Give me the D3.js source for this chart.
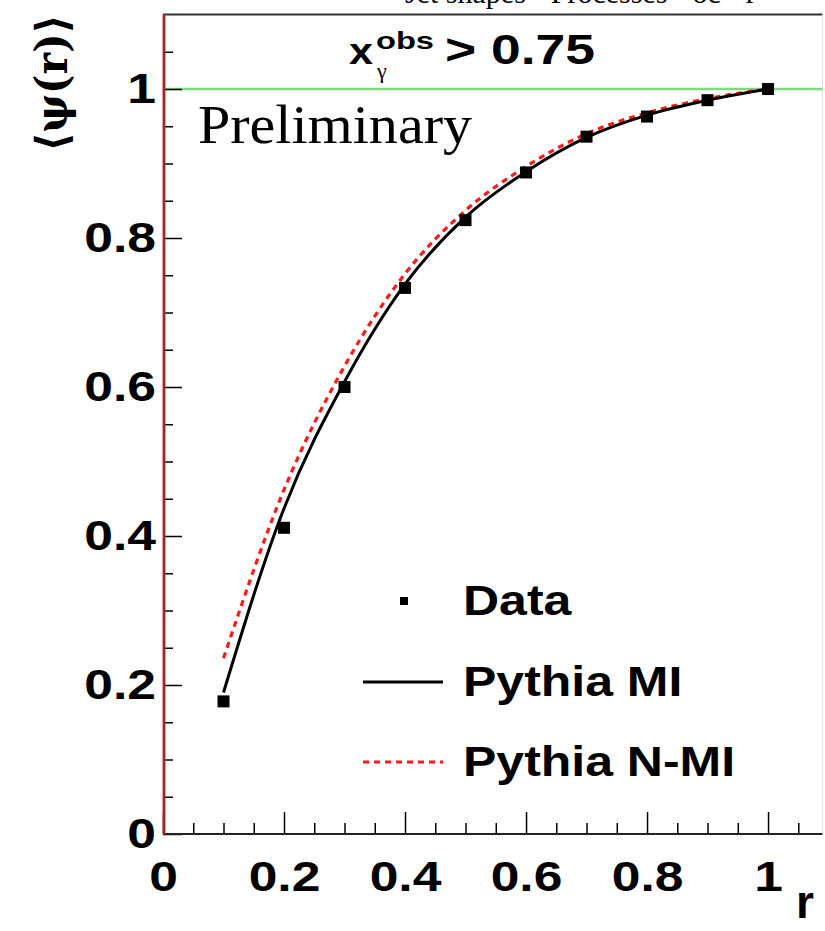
<!DOCTYPE html>
<html>
<head>
<meta charset="utf-8">
<script src="https://cdn.jsdelivr.net/npm/d3@7"></script>
<style>
  html, body { margin: 0; padding: 0; background: #fff; }
  svg { display: block; }
  .bold { font-family: "Liberation Sans", Arial, sans-serif; font-weight: bold; }
</style>
</head>
<body>
<svg id="chart" width="825" height="931"></svg>
<script>
// ---- data ----
const rValues = [0.1, 0.2, 0.3, 0.4, 0.5, 0.6, 0.7, 0.8, 0.9, 1.0];
const dataPsi = [0.178, 0.411, 0.600, 0.733, 0.824, 0.888, 0.936, 0.963, 0.985, 1.0];
const pythiaMI = [0.190, 0.437, 0.607, 0.738, 0.828, 0.889, 0.935, 0.965, 0.985, 1.0];
const pythiaNMI = [0.236, 0.462, 0.628, 0.752, 0.837, 0.896, 0.940, 0.968, 0.987, 1.0];
const majorTicks = [0, 0.2, 0.4, 0.6, 0.8, 1];
const majorLabels = ["0", "0.2", "0.4", "0.6", "0.8", "1"];
const minorTicks = [0.05, 0.1, 0.15, 0.25, 0.3, 0.35, 0.45, 0.5, 0.55, 0.65, 0.7, 0.75, 0.85, 0.9, 0.95, 1.05];
const legendLabels = ["Data", "Pythia MI", "Pythia N-MI"];
const cutLabel = "xγ obs > 0.75";

const svg = d3.select("#chart");
const x = d3.scaleLinear().domain([0, 1.09]).range([163, 822.5]);
const y = d3.scaleLinear().domain([0, 1.1]).range([834, 14.5]);

function stretch(sel, k) {
  sel.each(function () {
    const w = this.getComputedTextLength();
    d3.select(this).attr("textLength", w * k).attr("lengthAdjust", "spacingAndGlyphs");
  });
}

// cut-off caption line at the very top (only its lower part shows, as in the reference)
svg.append("text").attr("x", 405).attr("y", 3)
  .attr("font-family", "Liberation Serif").attr("font-size", 30)
  .text("Jet shapes · Processes · oc · r");

// frame
svg.append("line").attr("x1", x(0)).attr("x2", x(1.09)).attr("y1", y(1.1)).attr("y2", y(1.1))
  .attr("stroke", "#333").attr("stroke-width", 2);
svg.append("line").attr("x1", x(1.09)).attr("x2", x(1.09)).attr("y1", y(1.1)).attr("y2", y(0))
  .attr("stroke", "#ddd").attr("stroke-width", 1);

// reference line at 1
svg.append("line").attr("x1", x(0)).attr("x2", x(1.09)).attr("y1", y(1)).attr("y2", y(1))
  .attr("stroke", "#7ddc7d").attr("stroke-width", 2.5);

// axes
const fmt = d => majorLabels[majorTicks.indexOf(d)];
const yAxis = svg.append("g").attr("transform", `translate(${x(0)},0)`)
  .call(d3.axisLeft(y).tickValues(majorTicks).tickFormat(fmt).tickSize(-19).tickPadding(7));
const yMinor = svg.append("g").attr("transform", `translate(${x(0)},0)`)
  .call(d3.axisLeft(y).tickValues(minorTicks).tickFormat("").tickSize(-10));
const xAxis = svg.append("g").attr("transform", `translate(0,${y(0)})`)
  .call(d3.axisBottom(x).tickValues(majorTicks).tickFormat(fmt).tickSize(-22).tickPadding(26));
const xMinor = svg.append("g").attr("transform", `translate(0,${y(0)})`)
  .call(d3.axisBottom(x).tickValues(minorTicks).tickFormat("").tickSize(-11));

[yAxis, yMinor, xAxis, xMinor].forEach(g => {
  g.select(".domain").remove();
  g.selectAll(".tick line").attr("stroke", "#000").attr("stroke-width", 1.5);
});
[yAxis, xAxis].forEach(g => {
  g.selectAll(".tick text").attr("class", "bold").attr("font-size", 43).attr("fill", "#000");
  stretch(g.selectAll(".tick text"), 1.2);
});

// axis lines
svg.append("line").attr("x1", x(0)).attr("x2", x(1.09)).attr("y1", y(0)).attr("y2", y(0))
  .attr("stroke", "#222").attr("stroke-width", 2);
svg.append("line").attr("x1", x(0) + 1).attr("x2", x(0) + 1).attr("y1", y(1.1)).attr("y2", y(0))
  .attr("stroke", "#c83a3a").attr("stroke-width", 3);
svg.append("line").attr("x1", x(0) + 1).attr("x2", x(0) + 1).attr("y1", y(1.1)).attr("y2", y(0))
  .attr("stroke", "#5a1010").attr("stroke-width", 0.8);

// curves
const line = d3.line().x(d => x(d[0])).y(d => y(d[1])).curve(d3.curveMonotoneX);
svg.append("path").datum(rValues.map((r, i) => [r, pythiaNMI[i]]))
  .attr("d", line).attr("fill", "none").attr("stroke", "#ff1a1a")
  .attr("stroke-width", 3.2).attr("stroke-dasharray", "6,5");
svg.append("path").datum(rValues.map((r, i) => [r, pythiaMI[i]]))
  .attr("d", line).attr("fill", "none").attr("stroke", "#000").attr("stroke-width", 3);

// data points
svg.append("g").selectAll("rect").data(rValues.map((r, i) => [r, dataPsi[i]])).join("rect")
  .attr("x", d => x(d[0]) - 6).attr("y", d => y(d[1]) - 6)
  .attr("width", 12).attr("height", 12).attr("fill", "#000");

// labels
svg.append("text").attr("x", 198).attr("y", 143)
  .attr("font-family", "Liberation Serif").attr("font-size", 54)
  .attr("textLength", 274).attr("lengthAdjust", "spacingAndGlyphs").text("Preliminary");

const cut = svg.append("g");
cut.append("text").attr("class", "bold").attr("x", 349).attr("y", 64).attr("font-size", 36)
  .attr("textLength", 24).attr("lengthAdjust", "spacingAndGlyphs").text(cutLabel.slice(0, 1));
cut.append("text").attr("class", "bold").attr("x", 376).attr("y", 49).attr("font-size", 24)
  .attr("textLength", 58).attr("lengthAdjust", "spacingAndGlyphs").text(cutLabel.slice(3, 6));
cut.append("text").attr("x", 377).attr("y", 78).attr("font-size", 22)
  .attr("font-family", "Liberation Serif").text(cutLabel.slice(1, 2));
cut.append("text").attr("class", "bold").attr("x", 445).attr("y", 64).attr("font-size", 42)
  .attr("textLength", 150).attr("lengthAdjust", "spacingAndGlyphs").text(cutLabel.slice(7));

svg.append("text").attr("transform", "translate(52,83) rotate(-90)")
  .attr("text-anchor", "middle").attr("dy", "0.35em")
  .attr("font-family", "DejaVu Serif").attr("font-weight", "bold").attr("font-size", 44)
  .attr("textLength", 137).attr("lengthAdjust", "spacingAndGlyphs").text("⟨ψ(r)⟩");

svg.append("text").attr("class", "bold").attr("x", 805).attr("y", 918)
  .attr("text-anchor", "middle").attr("font-size", 46).text("r");

// legend
const leg = svg.append("g");
const legY = [601, 682, 762];
leg.append("rect").attr("x", 404 - 4).attr("y", legY[0] - 4).attr("width", 8).attr("height", 8).attr("fill", "#000");
leg.append("line").attr("x1", 363).attr("x2", 443).attr("y1", legY[1]).attr("y2", legY[1])
  .attr("stroke", "#000").attr("stroke-width", 3);
leg.append("line").attr("x1", 363).attr("x2", 443).attr("y1", legY[2]).attr("y2", legY[2])
  .attr("stroke", "#ff1a1a").attr("stroke-width", 3.2).attr("stroke-dasharray", "6,5");
const legText = leg.selectAll("text.lt").data(legendLabels).join("text")
  .attr("class", "bold lt").attr("x", 463).attr("y", (d, i) => legY[i] + 14)
  .attr("font-size", 42).text(d => d);
stretch(legText, 1.19);
</script>
</body>
</html>
